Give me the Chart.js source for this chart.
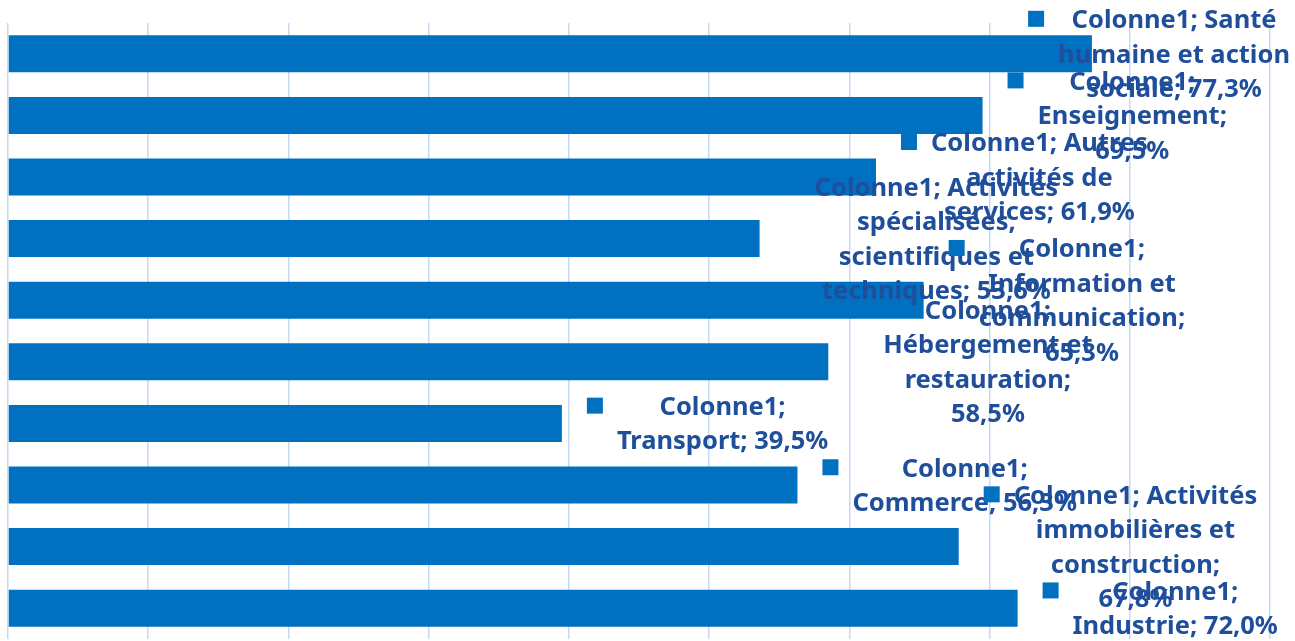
<!DOCTYPE html>
<html>
<head>
<meta charset="utf-8">
<script src="https://cdn.jsdelivr.net/npm/chart.js@4/dist/chart.umd.min.js"></script>
<style>
  html, body { margin: 0; padding: 0; background: #fff; }
  #wrap { width: 1295px; height: 641px; position: relative; }
</style>
</head>
<body>
<div id="wrap"><canvas id="barChart"></canvas></div>
<script>
// Part des salariés par secteur - Colonne1
const seriesName = 'Colonne1';
const categories = [
    'Santé humaine et action sociale',
    'Enseignement',
    'Autres activités de services',
    'Activités spécialisées, scientifiques et techniques',
    'Information et communication',
    'Hébergement et restauration',
    'Transport',
    'Commerce',
    'Activités immobilières et construction',
    'Industrie'
];
const values = [77.3, 69.5, 61.9, 53.6, 65.3, 58.5, 39.5, 56.3, 67.8, 72.0];
const xTicks = [0, 10, 20, 30, 40, 50, 60, 70, 80, 90];
// where Excel wraps each data label ({s} = series, {v} = value)
const labelWrap = [
    ['{s}; Santé', 'humaine et action', 'sociale; {v}'],
    ['{s};', 'Enseignement;', '{v}'],
    ['{s}; Autres', 'activités de', 'services; {v}'],
    ['{s}; Activités', 'spécialisées,', 'scientifiques et', 'techniques; {v}'],
    ['{s};', 'Information et', 'communication;', '{v}'],
    ['{s};', 'Hébergement et', 'restauration;', '{v}'],
    ['{s};', 'Transport; {v}'],
    ['{s};', 'Commerce; {v}'],
    ['{s}; Activités', 'immobilières et', 'construction;', '{v}'],
    ['{s};', 'Industrie; {v}']
];

const BAR_COLOR = '#0070C0';
const LABEL_COLOR = '#1F4E9B';
const LABEL_FONT = 'bold 25.5px "Noto Sans"';

function formatValue(v) {
    return v.toFixed(1).replace('.', ',') + '%';
}

// Excel-like data labels: legend key + wrapped "series; category; value"
const dataLabels = {
    id: 'dataLabels',
    afterDatasetsDraw(chart) {
        const ctx = chart.ctx;
        const meta = chart.getDatasetMeta(0);
        const W = chart.width;
        ctx.save();
        ctx.font = LABEL_FONT;
        ctx.textAlign = 'center';
        ctx.textBaseline = 'middle';
        meta.data.forEach((bar, i) => {
            const lines = labelWrap[i].map(l => l.replace('{s}', seriesName).replace('{v}', formatValue(values[i])));
            const maxW = Math.max(...lines.map(l => ctx.measureText(l).width));
            const lineH = 34.5;
            let sqX = bar.x + 25;
            let textLeft = sqX + 30;
            const overflow = textLeft + maxW - (W - 5);
            if (overflow > 0) { sqX -= overflow; textLeft -= overflow; }
            const firstY = bar.y + 1.5 - (lines.length - 1) * lineH / 2;
            ctx.fillStyle = BAR_COLOR;
            ctx.fillRect(sqX, firstY - 10, 16, 16);
            ctx.fillStyle = LABEL_COLOR;
            lines.forEach((l, k) => {
                ctx.fillText(l, textLeft + maxW / 2, firstY + k * lineH);
            });
        });
        ctx.restore();
    }
};

new Chart(document.getElementById('barChart').getContext('2d'), {
    type: 'bar',
    data: {
        labels: categories,
        datasets: [{
            label: seriesName,
            data: values,
            backgroundColor: BAR_COLOR,
            categoryPercentage: 1,
            barPercentage: 0.6
        }]
    },
    options: {
        indexAxis: 'y',
        responsive: true,
        maintainAspectRatio: false,
        animation: false,
        layout: { padding: { left: 8, top: 23, right: 25, bottom: 2 } },
        scales: {
            x: {
                min: 0,
                max: 90,
                afterBuildTicks: axis => { axis.ticks = xTicks.map(v => ({ value: v })); },
                ticks: { display: false },
                grid: { color: '#C6DAF2', lineWidth: 1.5, drawTicks: false },
                border: { display: false }
            },
            y: {
                display: false,
                grid: { display: false }
            }
        },
        plugins: {
            legend: { display: false },
            tooltip: { enabled: false }
        }
    },
    plugins: [dataLabels]
});
</script>
</body>
</html>
